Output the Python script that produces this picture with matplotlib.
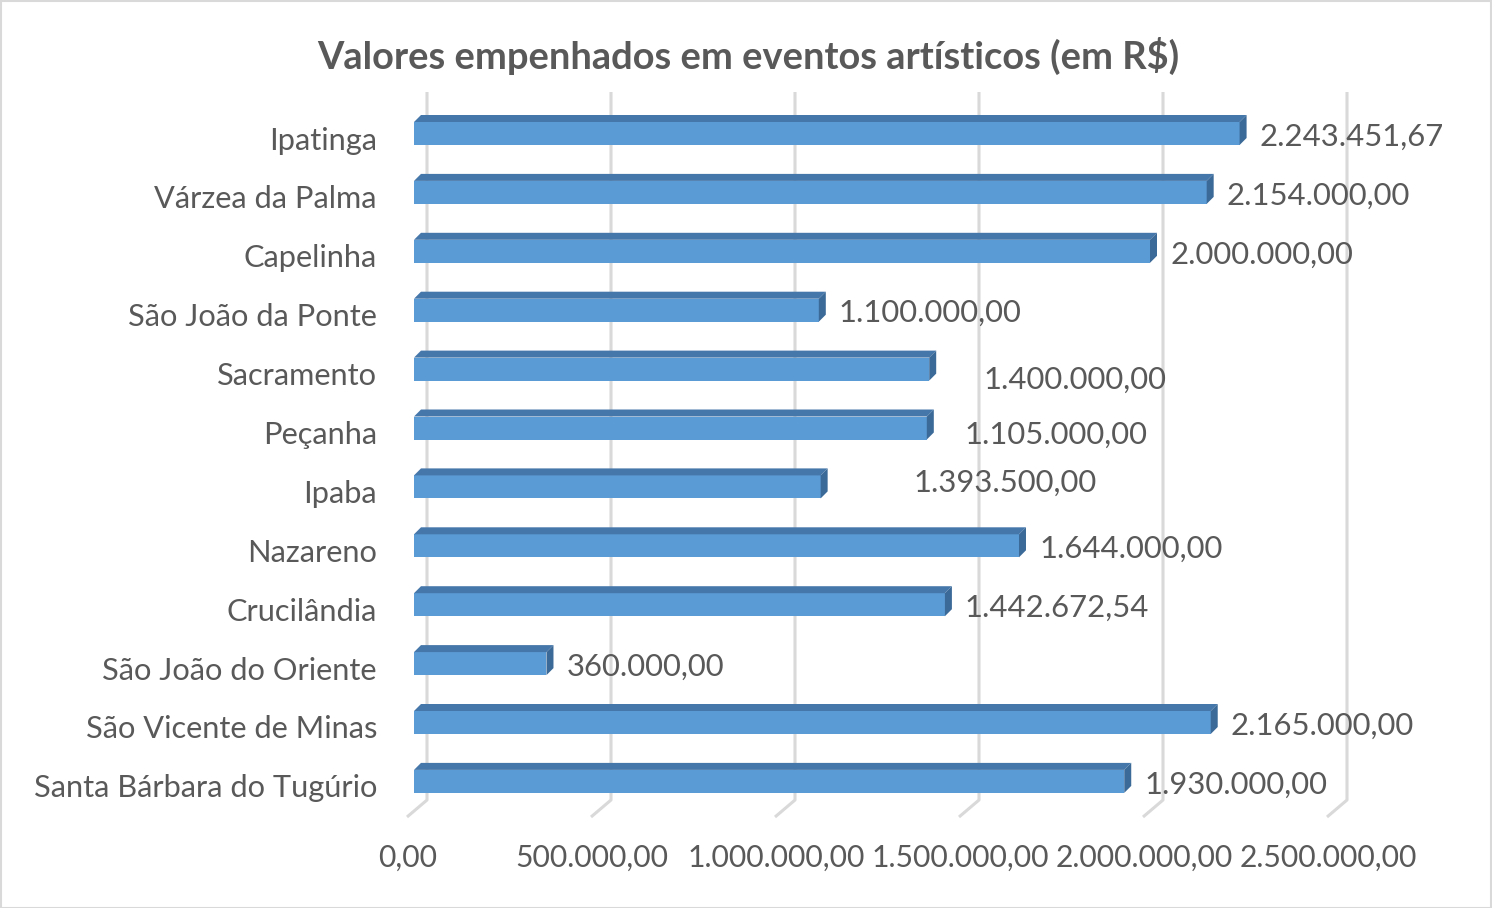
import matplotlib
matplotlib.use("Agg")
import matplotlib.pyplot as plt
from matplotlib.patches import Polygon, Rectangle
from matplotlib.font_manager import FontProperties
from matplotlib.textpath import TextPath

# ---------------- data ----------------
categories = ["Ipatinga", "Várzea da Palma", "Capelinha", "São João da Ponte",
              "Sacramento", "Peçanha", "Ipaba", "Nazareno", "Crucilândia",
              "São João do Oriente", "São Vicente de Minas", "Santa Bárbara do Tugúrio"]
bar_values = [2243451.67, 2154000, 2000000, 1100000, 1400000, 1393500,
              1105000, 1644000, 1442672.54, 360000, 2165000, 1930000]
value_labels = ["2.243.451,67", "2.154.000,00", "2.000.000,00", "1.100.000,00",
                "1.400.000,00", "1.105.000,00", "1.393.500,00", "1.644.000,00",
                "1.442.672,54", "360.000,00", "2.165.000,00", "1.930.000,00"]
x_ticks = [0, 500000, 1000000, 1500000, 2000000, 2500000]
x_tick_labels = ["0,00", "500.000,00", "1.000.000,00", "1.500.000,00",
                 "2.000.000,00", "2.500.000,00"]
title = r"Valores empenhados em eventos artísticos (em R\$)"

# manual label nudges (pixels: right, down) as in the original chart
label_nudge_px = [(0, 0), (0, 0), (0, 0), (0, 0), (34, 8), (18, 4), (73, -7),
                  (0, 0), (0, 0), (0, 0), (0, 0), (0, 0)]

# ---------------- style ----------------
FONT = "Lato"
TEXT = "#595959"
FRONT = "#5b9bd5"
TOP = "#4677aa"
SIDE = "#3b6a98"
GRID = "#d9d9d9"

W, H = 1492, 908
X0, PX_RANGE = 414, 920          # value 0 .. 2.5M on front plane
R0, RS = 133.5, 58.9              # row centre pixel, row spacing
XMAX = 2500000

fig = plt.figure(figsize=(W / 100, H / 100), dpi=100)
fig.patch.set_facecolor("white")
top_px = R0 - RS
bot_px = R0 + 12 * RS
ax = fig.add_axes([X0 / W, 1 - bot_px / H, PX_RANGE / W, (bot_px - top_px) / H])
ax.set_xlim(0, XMAX)
ax.set_ylim(12, -1)
ax.axis("off")

dxu = XMAX / PX_RANGE                 # data per pixel (x)
dyu = 13 / (bot_px - top_px)          # data per pixel (y, downward)


def py(px):
    return (px - R0) / RS


def fit_size(s, target_px, weight="normal"):
    fp = FontProperties(family=FONT, weight=weight, size=100)
    w = TextPath((0, 0), s, prop=fp).get_extents().width
    return 100 * target_px / (w * 100 / 72)


cat_size = fit_size("Santa Bárbara do Tugúrio", 341)
val_size = fit_size("2.243.451,67", 181)
tick_size = fit_size("2.500.000,00", 176)
title_size = fit_size(title, 860, "bold")

# gridlines (back wall + floor slant)
for v in x_ticks:
    xb = v + 13 * dxu
    xf = v - 7 * dxu
    ax.plot([xb, xb, xf], [py(92), py(800), py(817)], color=GRID, lw=2.2,
            zorder=1, clip_on=False, solid_capstyle="butt")

# bars
half = 11.5 * dyu
ddx, ddy = 7 * dxu, 7 * dyu
for i, v in enumerate(bar_values):
    top = i - half
    bot = i + half
    ax.add_patch(Rectangle((0, top), v, bot - top, facecolor=FRONT,
                           edgecolor="none", zorder=3, clip_on=False))
    ax.add_patch(Polygon([(0, top), (ddx, top - ddy), (v + ddx, top - ddy), (v, top)],
                         closed=True, facecolor=TOP, edgecolor="none", zorder=3,
                         clip_on=False))
    ax.add_patch(Polygon([(v, top), (v + ddx, top - ddy), (v + ddx, bot - ddy), (v, bot)],
                         closed=True, facecolor=SIDE, edgecolor="none", zorder=3,
                         clip_on=False))

# category labels
for i, c in enumerate(categories):
    ax.text(-37 * dxu, i + 7 * dyu, c, ha="right", va="center", fontsize=cat_size,
            family=FONT, color=TEXT, clip_on=False)

# value labels
for i, (v, lab) in enumerate(zip(bar_values, value_labels)):
    nx, ny = label_nudge_px[i]
    ax.text(v + (20 + nx) * dxu, i + (3 + ny) * dyu, lab, ha="left", va="center",
            fontsize=val_size, family=FONT, color=TEXT, clip_on=False, zorder=5)

# x tick labels
for v, lab in zip(x_ticks, x_tick_labels):
    ax.text(v - 6 * dxu, py(858), lab, ha="center", va="center", fontsize=tick_size,
            family=FONT, color=TEXT, clip_on=False)

# title
fig.text(748 / W, 1 - 56 / H, title, ha="center", va="center", fontsize=title_size,
         family=FONT, weight="bold", color=TEXT)

# chart border
fig.add_artist(Rectangle((0.5 / W, 0.5 / H), 1 - 1.5 / W, 1 - 1.5 / H,
                         transform=fig.transFigure, facecolor="none",
                         edgecolor=GRID, lw=1.5))

fig.savefig("out.png", dpi=100)
